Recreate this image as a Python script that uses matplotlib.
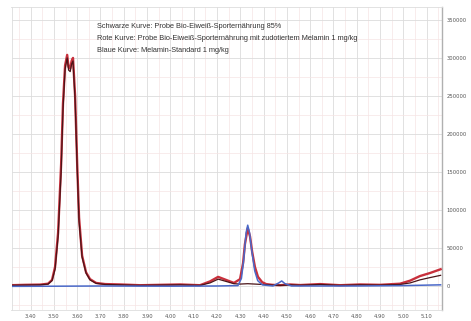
import matplotlib
matplotlib.use("Agg")
import matplotlib.pyplot as plt
from matplotlib.ticker import MultipleLocator, FixedLocator

# Retention time axis (min) and detector response for each trace
red_t = [3.312, 3.376, 3.441, 3.475, 3.492, 3.505, 3.518, 3.531, 3.539, 3.548,
         3.557, 3.563, 3.570, 3.576, 3.582, 3.591, 3.600, 3.608, 3.621, 3.638,
         3.655, 3.681, 3.720, 3.784, 3.870, 3.956, 4.042, 4.127, 4.170, 4.205,
         4.239, 4.273, 4.299, 4.312, 4.320, 4.332, 4.342, 4.351, 4.363, 4.376,
         4.394, 4.411, 4.437, 4.471, 4.514, 4.557, 4.643, 4.728, 4.814, 4.900,
         4.986, 5.029, 5.071, 5.114, 5.160]
red_y = [1000, 1500, 1800, 3000, 8000, 25000, 70000, 160000, 240000, 290000,
         304000, 288000, 286000, 296000, 300000, 250000, 160000, 90000, 40000, 18000,
         9000, 4000, 2500, 2000, 1000, 1500, 2000, 1000, 6000, 12000,
         8000, 4000, 9000, 30000, 55000, 76000, 65000, 45000, 25000, 12000,
         5000, 2500, 1500, 1000, 2000, 1200, 2500, 1000, 2000, 1500,
         3000, 7000, 13000, 17000, 22000]

black_t = [3.312, 3.376, 3.441, 3.475, 3.492, 3.505, 3.518, 3.531, 3.539, 3.548,
           3.557, 3.563, 3.570, 3.576, 3.582, 3.591, 3.600, 3.608, 3.621, 3.638,
           3.655, 3.681, 3.720, 3.784, 3.870, 3.956, 4.042, 4.127, 4.170, 4.205,
           4.239, 4.273, 4.299, 4.332, 4.363, 4.394, 4.437, 4.471, 4.514, 4.557,
           4.643, 4.728, 4.814, 4.900, 4.986, 5.029, 5.071, 5.114, 5.160]
black_y = [800, 1200, 1500, 2500, 7000, 22000, 65000, 150000, 232000, 285000,
           300000, 284000, 282000, 292000, 296000, 245000, 155000, 85000, 38000, 17000,
           8000, 3500, 2000, 1500, 800, 1200, 1500, 800, 4000, 9000,
           6000, 3000, 2500, 3000, 2500, 2000, 1200, 800, 1500, 1000,
           2000, 800, 1500, 1200, 2000, 4000, 8000, 11000, 14000]

blue_t = [3.312, 3.500, 3.700, 4.000, 4.200, 4.290, 4.305, 4.315, 4.325, 4.332,
          4.340, 4.350, 4.362, 4.375, 4.395, 4.440, 4.465, 4.478, 4.492, 4.520,
          4.800, 5.000, 5.160]
blue_y = [-500, -300, 0, -300, 0, 500, 10000, 35000, 70000, 80000,
          70000, 45000, 20000, 7000, 1500, 0, 4000, 6600, 3000, 0,
          0, 500, 1500]

x_ticks = [3.40, 3.50, 3.60, 3.70, 3.80, 3.90, 4.00, 4.10, 4.20,
           4.30, 4.40, 4.50, 4.60, 4.70, 4.80, 4.90, 5.00, 5.10]
y_ticks = [0, 50000, 100000, 150000, 200000, 250000, 300000, 350000]

legend_lines = [
    "Schwarze Kurve: Probe Bio-Eiweiß-Sporternährung 85%",
    "Rote Kurve: Probe Bio-Eiweiß-Sporternährung mit zudotiertem Melamin 1 mg/kg",
    "Blaue Kurve: Melamin-Standard 1 mg/kg",
]

W, H = 471, 321
fig = plt.figure(figsize=(W / 100, H / 100), dpi=100)
ax = fig.add_axes([11.5 / W, 1 - 310 / H, (442 - 11.5) / W, (310 - 7) / H])

ax.plot(red_t, red_y, color="#c8303c", lw=1.7, zorder=3)
ax.plot(black_t, black_y, color="#4a1418", lw=0.9, zorder=4)
ax.plot(blue_t, blue_y, color="#4a68c8", lw=1.1, zorder=5)

ax.set_xlim(3.318, 5.166)
ax.set_ylim(-31600, 367000)

ax.xaxis.set_major_locator(FixedLocator(x_ticks))
ax.set_xticklabels([f"{v:.2f}" for v in x_ticks])
ax.xaxis.set_minor_locator(MultipleLocator(0.05))
ax.yaxis.set_major_locator(FixedLocator(y_ticks))
ax.set_yticklabels([str(v) for v in y_ticks])
ax.yaxis.set_minor_locator(MultipleLocator(25000))

ax.yaxis.tick_right()
ax.tick_params(axis="both", which="both", length=0, labelsize=3.8,
               labelcolor="#555555", pad=3)

ax.grid(True, which="major", color="#dcdcdc", lw=0.6)
ax.grid(True, which="minor", color="#f6e4e4", lw=0.5)
ax.set_axisbelow(True)

for side in ("top", "left", "bottom"):
    ax.spines[side].set_color("#dddddd")
    ax.spines[side].set_linewidth(0.6)
ax.spines["right"].set_color("#b0b0b0")
ax.spines["right"].set_linewidth(1.0)

# legend text, positioned in pixels measured from the top edge
for i, line in enumerate(legend_lines):
    fig.text(97 / W, 1 - (26 + 12.5 * i) / H, line, fontsize=5.3,
             family="Liberation Sans", color="#333333", va="center", ha="left")

fig.savefig("out.png", dpi=100)
